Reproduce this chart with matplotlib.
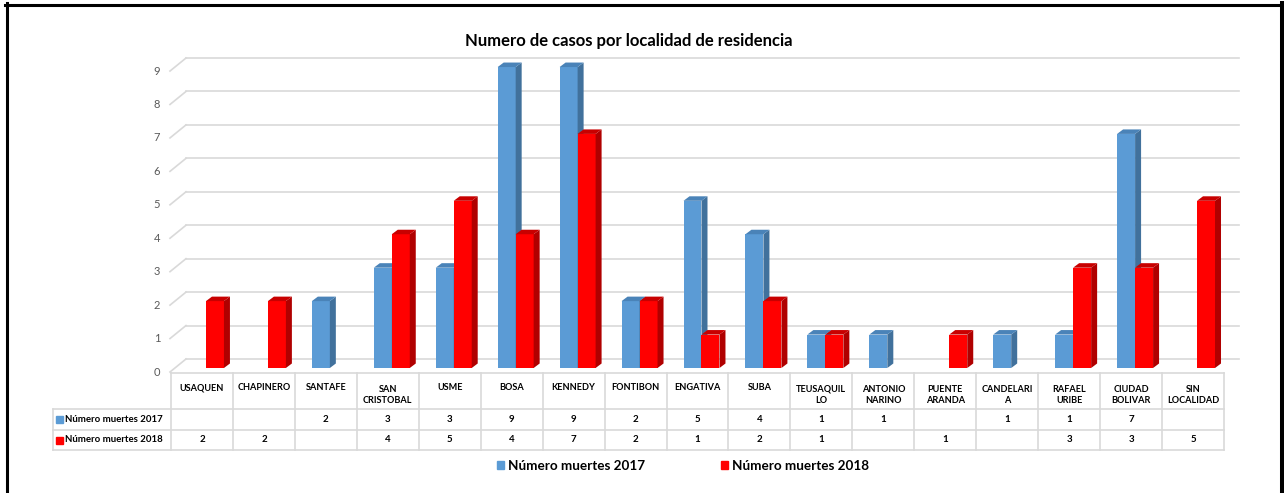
import numpy as np
import matplotlib
matplotlib.use("Agg")
import matplotlib.pyplot as plt
from matplotlib.patches import Polygon, Rectangle, Patch
from matplotlib.lines import Line2D

plt.rcParams['font.family'] = ['Lato', 'DejaVu Sans']

# data
localidades = ['USAQUEN', 'CHAPINERO', 'SANTAFE', 'SAN\nCRISTOBAL', 'USME', 'BOSA',
               'KENNEDY', 'FONTIBON', 'ENGATIVA', 'SUBA', 'TEUSAQUIL\nLO',
               'ANTONIO\nNARINO', 'PUENTE\nARANDA', 'CANDELARI\nA', 'RAFAEL\nURIBE',
               'CIUDAD\nBOLIVAR', 'SIN\nLOCALIDAD']
muertes_2017 = [None, None, 2, 3, 3, 9, 9, 2, 5, 4, 1, 1, None, 1, 1, 7, None]
muertes_2018 = [2, 2, None, 4, 5, 4, 7, 2, 1, 2, 1, None, 1, None, 3, 3, 5]
series = ['Número muertes 2017', 'Número muertes 2018']
yticks = list(range(10))

front = ['#5B9BD5', '#FF0000']
side = ['#41719C', '#B00000']
top = ['#4A83B8', '#C80000']

W, H = 1284, 493
fx = lambda px: px / W
fy = lambda py: 1 - py / H

fig = plt.figure(figsize=(W / 100, H / 100), dpi=100)

unit = 33.44   # px per value unit
col = 62.0     # px per category
ax = fig.add_axes([fx(171), fy(373), fx(1224) - fx(171), fy(50) - fy(373)])
ax.set_xlim(-0.5, 16.5)
ax.set_ylim(-5 / unit, (368 - 50) / unit)
ax.axis('off')

# back wall gridlines + left floor diagonals
bx, by = 15 / col, 9 / unit
for v in yticks:
    ax.plot([-0.5 + bx, 16.5 + bx], [v + by, v + by], color='#D9D9D9', lw=1.2,
            clip_on=False, zorder=1)
    ax.plot([-0.5 - 1 / col, -0.5 + bx], [v - 4 / unit, v + by], color='#D9D9D9',
            lw=1.2, clip_on=False, zorder=1)
    ax.text(-0.5 - 14 / col, v - 4 / unit, str(v), ha='center', va='center',
            fontsize=8, color='#595959')

# 3d columns
w = 18 / col
off = [-14 / col, 4 / col]
dx, dy = 6 / col, 4.5 / unit
for i in range(len(localidades)):
    for s, vals in enumerate([muertes_2017, muertes_2018]):
        h = vals[i]
        if h is None:
            continue
        x0 = i + off[s]
        ax.bar(x0, h, width=w, align='edge', color=front[s], zorder=3 + i * 2 + s)
        ax.add_patch(Polygon([(x0 + w, 0), (x0 + w + dx, dy), (x0 + w + dx, h + dy),
                              (x0 + w, h)], closed=True, color=side[s], lw=0,
                             zorder=3 + i * 2 + s))
        ax.add_patch(Polygon([(x0, h), (x0 + dx, h + dy), (x0 + w + dx, h + dy),
                              (x0 + w, h)], closed=True, color=top[s], lw=0,
                             zorder=3 + i * 2 + s))

# data table
tax = fig.add_axes([fx(171), fy(450), fx(1224) - fx(171), fy(373) - fy(450)])
tax.set_xlim(-0.5, 16.5)
tax.set_ylim(77, 0)
tax.axis('off')
lc = '#D9D9D9'
left = -0.5 - 118 / col
tax.plot([-0.5, 16.5], [0, 0], color=lc, lw=1.2, clip_on=False)
for yy in [36, 57, 77]:
    tax.plot([left, 16.5], [yy, yy], color=lc, lw=1.2, clip_on=False)
tax.plot([left, left], [36, 77], color=lc, lw=1.2, clip_on=False)
for i in range(len(localidades) + 1):
    tax.plot([i - 0.5, i - 0.5], [0, 77], color=lc, lw=1.2, clip_on=False)

for i, name in enumerate(localidades):
    tax.text(i, 22 if '\n' in name else 15, name, ha='center', va='center',
             fontsize=6.6, fontweight='bold', linespacing=1.3, color='#000000')
rows_y = [46.5, 67]
for s, vals in enumerate([muertes_2017, muertes_2018]):
    for i, v in enumerate(vals):
        if v is not None:
            tax.text(i, rows_y[s], str(v), ha='center', va='center', fontsize=7,
                     fontweight='bold', color='#000000')
    tax.add_patch(Rectangle((-0.5 - 115 / col, rows_y[s] - 3.5), 7 / col, 7,
                            color=front[s], clip_on=False))
    tax.text(-0.5 - 106 / col, rows_y[s], series[s], ha='left', va='center',
             fontsize=6.9, fontweight='bold', color='#000000', clip_on=False)

# title and legend
fig.text(fx(629), fy(41), 'Numero de casos por localidad de residencia',
         ha='center', va='center', fontsize=12, fontweight='bold', color='#000000')
handles = [Patch(color=front[0]), Patch(color=front[1])]
fig.legend(handles, series, loc='center', bbox_to_anchor=(fx(683), fy(466)),
           ncol=2, frameon=False, prop={'size': 9.7, 'weight': 'bold'},
           handlelength=0.55, handleheight=0.55, handletextpad=0.3,
           columnspacing=5.6)

# outer frame
fig.add_artist(Line2D([fx(6.5), fx(6.5)], [fy(3), 0], color='black', lw=2.2))
fig.add_artist(Line2D([fx(5), 1], [fy(4.5), fy(4.5)], color='black', lw=2.2))
fig.add_artist(Line2D([fx(1282), fx(1282)], [fy(3), 0], color='black', lw=2.9))

fig.savefig('out.png', dpi=100)
